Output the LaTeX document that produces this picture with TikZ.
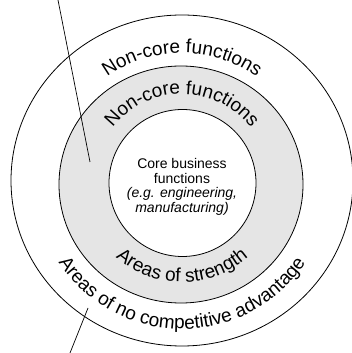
\documentclass[tikz,border=0pt]{standalone}
\usepackage{fontspec}
\setmainfont{Liberation Sans}
\usetikzlibrary{decorations.text}
\newcommand\ringfont{\fontsize{19}{19}\selectfont}
\begin{document}
\begin{tikzpicture}[x=1pt,y=1pt,
  ring/.style={draw=black, line width=0.8pt},
  pointer/.style={draw=black, line width=0.7pt},
  curvetext/.style={decorate, decoration={text along path, text align=center, text={#1}}},
]
\useasboundingbox[fill=white] (0,0) rectangle (351,353);
\coordinate (C) at (182,172);
\draw[ring] (182,172.5) ellipse[x radius=171, y radius=165.5];
\draw[ring, fill=gray!20] (181,168.5) ellipse[x radius=122, y radius=118.5];
\draw[ring, fill=white] (182.5,170) ellipse[x radius=73.5, y radius=73.5];
% curved labels
\path[curvetext={|\ringfont|Non-core functions}] ([shift={(160:128)}]C) arc[start angle=160, end angle=20, radius=128];
\path[curvetext={|\ringfont|Non-core functions}] ([shift={(165:87)}]C) arc[start angle=165, end angle=15, radius=87];
\path[curvetext={|\ringfont|Areas of strength}] ([shift={(200:101)}]C) arc[start angle=200, end angle=340, radius=101];
\path[curvetext={|\ringfont|Areas of no competitive advantage}] ([shift={(190:148)}]C) arc[start angle=190, end angle=350, radius=148];
% centre text
\node[align=center, font=\fontsize{14}{14.5}\selectfont] (core) at (182,166)
  {Core business\\functions\\\textit{(e.g. engineering,}\\\textit{manufacturing)}};
% pointer lines
\coordinate (l1a) at (58,353);
\coordinate (l1b) at (90,191);
\coordinate (l2a) at (88,45);
\coordinate (l2b) at (70,0);
\draw[pointer] (l1a) -- (l1b);
\draw[pointer] (l2a) -- (l2b);
\end{tikzpicture}
\end{document}
